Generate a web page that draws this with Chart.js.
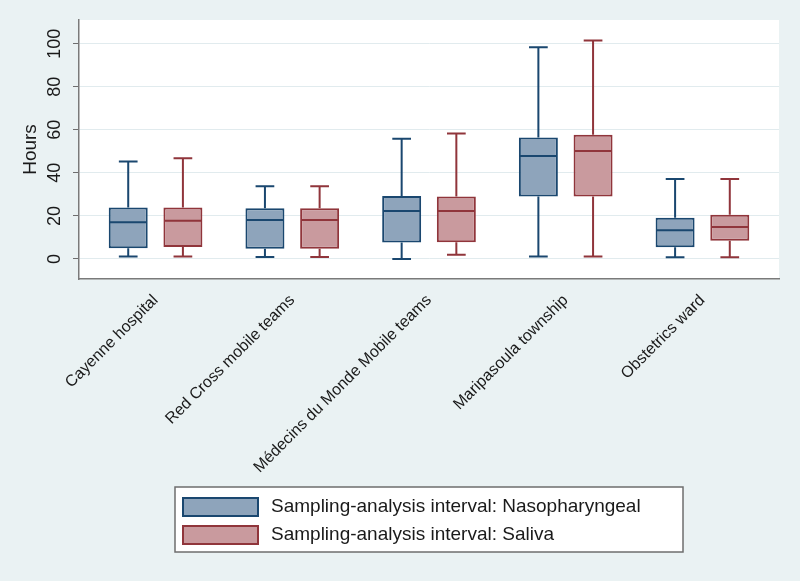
<!DOCTYPE html>
<html>
<head>
<meta charset="utf-8">
<script src="https://cdn.jsdelivr.net/npm/chart.js@4.4.1/dist/chart.umd.min.js"></script>
<style>
  body { margin: 0; background: #eaf2f3; }
  #wrap { width: 800px; height: 581px; position: relative; }
</style>
</head>
<body>
<div id="wrap"><canvas id="myChart"></canvas></div>
<script>
const categories = [
  "Cayenne hospital",
  "Red Cross mobile teams",
  "Médecins du Monde Mobile teams",
  "Maripasoula township",
  "Obstetrics ward"
];

// Nasopharyngeal boxes (hours)
const nasoMin = [1.1, 0.9, 0.0, 1.2, 0.8];
const nasoQ1  = [5.0, 4.7, 7.6, 29.0, 5.4];
const nasoMed = [17.1, 18.1, 22.3, 47.8, 13.3];
const nasoQ3  = [23.9, 23.6, 29.2, 56.4, 19.1];
const nasoMax = [45.3, 33.8, 55.8, 98.3, 37.1];

// Saliva boxes (hours)
const salMin = [1.1, 0.9, 2.0, 1.2, 0.8];
const salQ1  = [5.6, 4.7, 7.8, 29.0, 8.5];
const salMed = [17.8, 18.1, 22.3, 50.2, 14.9];
const salQ3  = [23.9, 23.6, 29.0, 57.7, 20.6];
const salMax = [46.8, 33.8, 58.3, 101.5, 37.1];

const yTicks = [0, 20, 40, 60, 80, 100];

const seriesLabels = [
  "Sampling-analysis interval: Nasopharyngeal",
  "Sampling-analysis interval: Saliva"
];

const stats = [
  {min: nasoMin, med: nasoMed, max: nasoMax},
  {min: salMin, med: salMed, max: salMax}
];

function boxes(q1, q3) {
  return q1.map((v, i) => ({x: i, y: [v, q3[i]]}));
}

// background: grey page, white plot region
const bgPlugin = {
  id: "bg",
  beforeDraw(chart) {
    const {ctx, chartArea: a} = chart;
    ctx.save();
    ctx.fillStyle = "#eaf2f3";
    ctx.fillRect(0, 0, chart.width, chart.height);
    ctx.fillStyle = "#ffffff";
    ctx.fillRect(a.left, a.top, a.right - a.left, a.bottom - a.top);
    ctx.restore();
  }
};

// whiskers + median lines
const whiskerPlugin = {
  id: "whiskers",
  afterDatasetsDraw(chart) {
    const ctx = chart.ctx;
    const y = chart.scales.y;
    chart.data.datasets.forEach((ds, d) => {
      const meta = chart.getDatasetMeta(d);
      const s = stats[d];
      ctx.save();
      ctx.strokeStyle = ds.borderColor;
      ctx.lineWidth = 2;
      meta.data.forEach((bar, i) => {
        const half = bar.width / 2;
        const cap = bar.width * 0.24;
        const yMin = y.getPixelForValue(s.min[i]);
        const yMax = y.getPixelForValue(s.max[i]);
        const yMed = y.getPixelForValue(s.med[i]);
        const yLo = y.getPixelForValue(ds.data[i].y[0]);
        const yHi = y.getPixelForValue(ds.data[i].y[1]);
        ctx.beginPath();
        ctx.moveTo(bar.x, yHi); ctx.lineTo(bar.x, yMax);
        ctx.moveTo(bar.x - cap, yMax); ctx.lineTo(bar.x + cap, yMax);
        ctx.moveTo(bar.x, yLo); ctx.lineTo(bar.x, yMin);
        ctx.moveTo(bar.x - cap, yMin); ctx.lineTo(bar.x + cap, yMin);
        ctx.moveTo(bar.x - half + 1, yMed); ctx.lineTo(bar.x + half - 1, yMed);
        ctx.stroke();
      });
      ctx.restore();
    });
  }
};

// boxed legend under the plot
const legendPlugin = {
  id: "boxLegend",
  afterDraw(chart) {
    const ctx = chart.ctx;
    const a = chart.chartArea;
    const w = 508, h = 65;
    const left = (a.left + a.right) / 2 - w / 2;
    const top = 487;
    ctx.save();
    ctx.fillStyle = "#ffffff";
    ctx.fillRect(left, top, w, h);
    ctx.strokeStyle = "#6e6e6e";
    ctx.lineWidth = 1.5;
    ctx.strokeRect(left, top, w, h);
    ctx.font = "19px 'Liberation Sans', Arial, sans-serif";
    ctx.textBaseline = "middle";
    chart.data.datasets.forEach((ds, d) => {
      const sy = top + 11 + d * 28;
      ctx.fillStyle = ds.backgroundColor;
      ctx.fillRect(left + 8, sy, 75, 18);
      ctx.strokeStyle = ds.borderColor;
      ctx.lineWidth = 2;
      ctx.strokeRect(left + 8, sy, 75, 18);
      ctx.fillStyle = "#1a1a1a";
      ctx.fillText(ds.label, left + 96, sy + 9);
    });
    ctx.restore();
  }
};

const ctx = document.getElementById("myChart").getContext("2d");

const myChart = new Chart(ctx, {
  type: "bar",
  data: {
    datasets: [
      {
        label: seriesLabels[0],
        data: boxes(nasoQ1, nasoQ3),
        backgroundColor: "#8ea4bb",
        borderColor: "#1a476f",
        borderWidth: 2,
        borderSkipped: false
      },
      {
        label: seriesLabels[1],
        data: boxes(salQ1, salQ3),
        backgroundColor: "#c99a9e",
        borderColor: "#90353b",
        borderWidth: 2,
        borderSkipped: false
      }
    ]
  },
  options: {
    responsive: true,
    maintainAspectRatio: false,
    animation: false,
    categoryPercentage: 0.8,
    barPercentage: 0.713,
    layout: {padding: {top: 20, right: 21, left: 0, bottom: 0}},
    plugins: {
      legend: {display: false},
      tooltip: {enabled: false}
    },
    scales: {
      x: {
        type: "linear",
        offset: false,
        min: -0.56,
        max: 4.56,
        grid: {display: false},
        border: {display: true, color: "#7a7a7a", width: 1.5},
        afterBuildTicks(scale) {
          scale.ticks = categories.map((c, i) => ({value: i}));
        },
        afterFit(scale) { scale.height = 302; },
        ticks: {
          autoSkip: false,
          minRotation: 45,
          maxRotation: 45,
          padding: 4,
          color: "#1a1a1a",
          font: {family: "'Liberation Sans', Arial, sans-serif", size: 16},
          callback: (v) => categories[v]
        }
      },
      y: {
        min: -9.3,
        max: 111,
        afterBuildTicks(scale) {
          scale.ticks = yTicks.map(v => ({value: v}));
        },
        afterFit(scale) { scale.width = 79; },
        grid: {
          color: "#e1ebee",
          lineWidth: 1,
          tickLength: 6,
          tickColor: "#6e6e6e"
        },
        border: {display: true, color: "#7a7a7a", width: 1.5},
        title: {
          display: true,
          text: "Hours",
          color: "#1a1a1a",
          padding: {top: 19, bottom: 0},
          font: {family: "'Liberation Sans', Arial, sans-serif", size: 19}
        },
        ticks: {
          autoSkip: false,
          minRotation: 90,
          maxRotation: 90,
          crossAlign: "center",
          padding: 3,
          color: "#1a1a1a",
          font: {family: "'Liberation Sans', Arial, sans-serif", size: 18}
        }
      }
    }
  },
  plugins: [bgPlugin, whiskerPlugin, legendPlugin]
});
</script>
</body>
</html>
